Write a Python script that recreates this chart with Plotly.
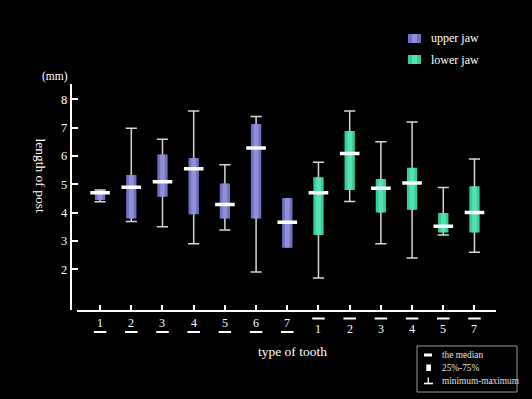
import plotly.graph_objects as go

W, H = 532, 399

# ---- data ----
upper_labels = ["1", "2", "3", "4", "5", "6", "7"]
upper_min = [4.38, 3.69, 3.50, 2.90, 3.39, 1.90, 2.76]
upper_q1 = [4.45, 3.79, 4.56, 3.94, 3.79, 3.79, 2.76]
upper_med = [4.70, 4.90, 5.09, 5.55, 4.29, 6.28, 3.66]
upper_q3 = [4.78, 5.33, 6.05, 5.93, 5.03, 7.13, 4.52]
upper_max = [4.80, 6.98, 6.59, 7.59, 5.69, 7.39, 4.52]

lower_labels = ["1", "2", "3", "4", "5", "7"]
lower_min = [1.69, 4.39, 2.90, 2.40, 3.21, 2.60]
lower_q1 = [3.21, 4.80, 4.00, 4.10, 3.30, 3.30]
lower_med = [4.70, 6.09, 4.86, 5.05, 3.52, 4.00]
lower_q3 = [5.25, 6.88, 5.19, 5.58, 3.99, 4.93]
lower_max = [5.78, 7.59, 6.50, 7.20, 4.89, 5.89]

y_ticks = [2, 3, 4, 5, 6, 7, 8]

# ---- style ----
SERIF = "Liberation Serif, Times New Roman, serif"
UP_OUT, UP_IN = "#7070c4", "#9898dc"
LO_OUT, LO_IN = "#34cf98", "#62e6b6"
WHISK = "#d6d6d6"


def px(p):
    return p / W


def py(p):
    return 1 - p / H


fig = go.Figure()

groups = [
    (upper_labels, upper_min, upper_q1, upper_med, upper_q3, upper_max, UP_OUT, UP_IN, 0),
    (lower_labels, lower_min, lower_q1, lower_med, lower_q3, lower_max, LO_OUT, LO_IN, len(upper_labels)),
]

all_x = []
for labels, mn, q1, md, q3, mx, c_out, c_in, off in groups:
    xs = [off + i for i in range(len(labels))]
    all_x += xs
    # whiskers
    wx, wy = [], []
    for x, a, b, c, d in zip(xs, mn, q1, q3, mx):
        if a < b:
            wx += [x, x, None]
            wy += [a, b, None]
        if d > c:
            wx += [x, x, None]
            wy += [c, d, None]
    fig.add_trace(go.Scatter(x=wx, y=wy, mode="lines", line=dict(color=WHISK, width=1.5),
                             hoverinfo="skip", showlegend=False))
    cx, cy = [], []
    for x, a, b, c, d in zip(xs, mn, q1, q3, mx):
        if a < b:
            cx.append(x); cy.append(a)
        if d > c:
            cx.append(x); cy.append(d)
    fig.add_trace(go.Scatter(x=cx, y=cy, mode="markers",
                             marker=dict(symbol="line-ew", size=8, color=WHISK,
                                         line=dict(color=WHISK, width=1.5)),
                             hoverinfo="skip", showlegend=False))
    # boxes
    heights = [b - a for a, b in zip(q1, q3)]
    fig.add_trace(go.Bar(x=xs, y=heights, base=q1, width=0.33, marker=dict(color=c_out, line=dict(width=0)),
                         showlegend=False))
    fig.add_trace(go.Bar(x=xs, y=heights, base=q1, width=0.15, marker=dict(color=c_in, line=dict(width=0)),
                         opacity=0.8, showlegend=False))
    # medians
    fig.add_trace(go.Scatter(x=xs, y=md, mode="markers",
                             marker=dict(symbol="line-ew", size=14, color="white",
                                         line=dict(color="white", width=3.5)),
                             showlegend=False))

annotations = []
shapes = []


def note(x, y, text, size, color="white", xref="paper", xanchor="center", angle=0):
    annotations.append(dict(x=x, y=y, xref=xref, yref="paper", text=text, showarrow=False,
                            xanchor=xanchor, yanchor="middle", textangle=angle,
                            font=dict(family=SERIF, size=size, color=color)))


# x tick labels with under/over lines
n_up = len(upper_labels)
for i, lab in enumerate(upper_labels):
    note(i, py(323), lab, 12, xref="x")
    shapes.append(dict(type="line", xref="x", yref="paper", x0=i - 0.2, x1=i + 0.2,
                       y0=py(332), y1=py(332), line=dict(color="white", width=2)))
for j, lab in enumerate(lower_labels):
    i = n_up + j
    note(i, py(328.5), lab, 12, xref="x")
    shapes.append(dict(type="line", xref="x", yref="paper", x0=i - 0.2, x1=i + 0.2,
                       y0=py(318.5), y1=py(318.5), line=dict(color="white", width=2)))

# axis titles
note(px(292), py(351), "type of tooth", 13.5)
note(px(40.5), py(175), "length of post", 13.5, angle=90)
note(px(54.5), py(76), "(mm)", 11.5)

# top-right legend
for ytxt, c_out, c_in, txt in [(38.5, UP_OUT, UP_IN, "upper jaw"), (59.5, LO_OUT, LO_IN, "lower jaw")]:
    shapes.append(dict(type="rect", xref="paper", yref="paper", x0=px(408), x1=px(421),
                       y0=py(ytxt - 4.5), y1=py(ytxt + 4.5), fillcolor=c_out, line=dict(width=0)))
    shapes.append(dict(type="rect", xref="paper", yref="paper", x0=px(412), x1=px(417),
                       y0=py(ytxt - 4.5), y1=py(ytxt + 4.5), fillcolor=c_in, line=dict(width=0), opacity=0.8))
    note(px(429), py(ytxt), txt, 12, xanchor="left")

# bottom-right key
shapes.append(dict(type="rect", xref="paper", yref="paper", x0=px(417), x1=px(517), y0=py(346), y1=py(392),
                   line=dict(color="#9a9a9a", width=1)))
shapes.append(dict(type="rect", xref="paper", yref="paper", x0=px(424), x1=px(432), y0=py(353.5), y1=py(356.5),
                   fillcolor="white", line=dict(width=0)))
shapes.append(dict(type="rect", xref="paper", yref="paper", x0=px(426.3), x1=px(431), y0=py(364.5), y1=py(371),
                   fillcolor="white", line=dict(width=0)))
shapes.append(dict(type="line", xref="paper", yref="paper", x0=px(428.3), x1=px(428.3), y0=py(377.5), y1=py(383.5),
                   line=dict(color="white", width=1.3)))
shapes.append(dict(type="line", xref="paper", yref="paper", x0=px(424), x1=px(433), y0=py(383.5), y1=py(383.5),
                   line=dict(color="white", width=1.6)))
for yy, txt in [(355, "the median"), (368, "25%-75%"), (381, "minimum-maximum")]:
    note(px(440), py(yy), txt, 9.3, color="#e0e0e0", xanchor="left")

fig.update_layout(
    width=W, height=H,
    margin=dict(l=0, r=0, t=0, b=0),
    paper_bgcolor="black", plot_bgcolor="black",
    barmode="overlay",
    showlegend=False,
    annotations=annotations,
    shapes=shapes,
    xaxis=dict(domain=[px(76.7), px(496)], range=[-0.75, 12.69], showgrid=False, zeroline=False,
               showline=True, linecolor="white", linewidth=2,
               tickmode="array", tickvals=all_x, showticklabels=False,
               ticks="inside", ticklen=5, tickwidth=1.5, tickcolor="white"),
    yaxis=dict(domain=[py(310), py(84)], range=[0.563, 8.54], anchor="free", position=px(70.7),
               showgrid=False, zeroline=False, showline=True, linecolor="white", linewidth=2,
               tickmode="array", tickvals=y_ticks,
               ticks="inside", ticklen=6, tickwidth=1.5, tickcolor="white",
               tickfont=dict(family=SERIF, size=12.5, color="white")),
)

fig.write_html("out.html", config={"displayModeBar": False},
               post_script="document.body.style.margin='0';document.body.style.background='black';")
